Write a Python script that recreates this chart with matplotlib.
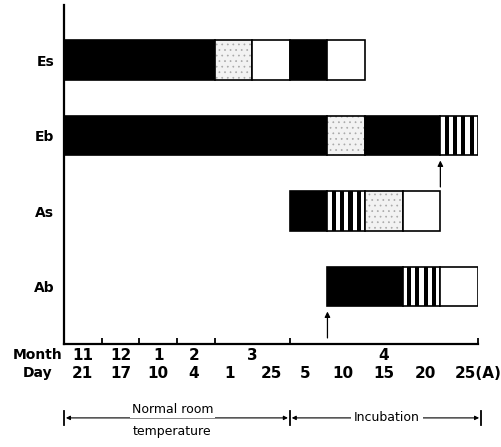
import matplotlib
matplotlib.use("Agg")
import matplotlib.pyplot as plt

plt.rcParams['font.family'] = ['DejaVu Sans']
plt.rcParams['font.weight'] = 'bold'
plt.rcParams['hatch.linewidth'] = 0.5

# samples (top to bottom) and their stage sequences; bounds are in
# units of the sampling intervals on the x axis
rows = ['Es', 'Eb', 'As', 'Ab']
stages = {
    'Es': ['black', 'stipple', 'white', 'black', 'white'],
    'Eb': ['black', 'stipple', 'black', 'stripe'],
    'As': ['black', 'stripe', 'stipple', 'white'],
    'Ab': ['black', 'stripe', 'white'],
}
bounds = {
    'Es': [0, 4, 5, 6, 7, 8],
    'Eb': [0, 7, 8, 10, 11],
    'As': [6, 7, 8, 9, 10],
    'Ab': [7, 9, 10, 11],
}
# start of incubation of each adult sample (arrows)
arrow_rows = ['Eb', 'Ab']
arrow_x = [10, 7]

month_labels = ['11', '12', '1', '2', '3', '4']
day_labels = ['21', '17', '10', '4', '1', '25', '5', '10', '15', '20', '25(A)']
tick_pos = [1, 2, 3, 4, 6, 11]

# label layout along the x axis
month_x = [0.5, 1.5, 2.5, 3.45, 5.0, 8.5]
day_x = [0.5, 1.5, 2.5, 3.45, 4.4, 5.5, 6.4, 7.4, 8.5, 9.6, 11.0]

fig = plt.figure(figsize=(5.01, 4.47), dpi=100)
ax = fig.add_axes([64 / 501, 1 - 344 / 447, 414 / 501, 339 / 447])
ax.set_xlim(0, 11)
ax.set_ylim(0.24, 4.73)

ypos = {r: len(rows) - i for i, r in enumerate(rows)}
h = 0.52

for r in rows:
    y = ypos[r]
    b = bounds[r]
    for kind, a, e in zip(stages[r], b[:-1], b[1:]):
        if kind == 'black':
            ax.barh(y, e - a, left=a, height=h, color='black', lw=0)
        elif kind == 'white':
            ax.barh(y, e - a, left=a, height=h, color='white', lw=0)
        elif kind == 'stipple':
            ax.barh(y, e - a, left=a, height=h, color='#f2f2f2',
                    edgecolor='#a8a8a8', hatch='...', lw=0)
        else:
            ax.barh(y, e - a, left=a, height=h, color='white', lw=0)
            n, w = 4, 0.11
            gap = ((e - a) - n * w) / (n + 1)
            for k in range(n):
                ax.barh(y, w, left=a + gap * (k + 1) + w * k, height=h,
                        color='black', lw=0)
        ax.barh(y, e - a, left=a, height=h, fill=False, edgecolor='black',
                lw=1.2)

for r, x in zip(arrow_rows, arrow_x):
    y = ypos[r]
    ax.annotate('', xy=(x, y - h / 2 - 0.07), xytext=(x, y - h / 2 - 0.42),
                arrowprops=dict(arrowstyle='-|>', lw=0.9, color='black',
                                mutation_scale=8, shrinkA=0, shrinkB=0))

ax.spines['top'].set_visible(False)
ax.spines['right'].set_visible(False)
ax.spines['left'].set_linewidth(1.6)
ax.spines['bottom'].set_linewidth(1.6)

ax.set_yticks([ypos[r] for r in rows])
ax.set_yticklabels(rows, fontsize=10, fontweight='bold')
ax.tick_params(axis='y', length=0, pad=7)
ax.set_xticks(tick_pos)
ax.set_xticklabels([])
ax.tick_params(axis='x', direction='in', length=4, width=1.3)

tr = ax.get_xaxis_transform()
ax.text(-0.05, -0.032, 'Month', transform=tr, ha='right', va='center',
        fontsize=10, fontweight='bold')
ax.text(-0.32, -0.086, 'Day', transform=tr, ha='right', va='center',
        fontsize=10, fontweight='bold')
for x, s in zip(month_x, month_labels):
    ax.text(x, -0.034, s, transform=tr, ha='center', va='center',
            fontsize=11, fontweight='bold', clip_on=False)
for x, s in zip(day_x, day_labels):
    ax.text(x, -0.088, s, transform=tr, ha='center', va='center',
            fontsize=11, fontweight='bold', clip_on=False)

# period brackets below the axis
yb = -0.218
for x in [0, 6, 11.08]:
    ax.plot([x, x], [yb - 0.02, yb + 0.02], transform=tr, color='black',
            lw=1.3, clip_on=False)
for a, e in [(0, 6), (6, 11.08)]:
    ax.annotate('', xy=(a + 0.05, yb), xytext=(e - 0.05, yb), xycoords=tr,
                textcoords=tr,
                arrowprops=dict(arrowstyle='<|-|>', lw=0.8, color='black',
                                mutation_scale=6, shrinkA=0, shrinkB=0))
ax.text(2.88, yb + 0.026, 'Normal room', transform=tr, ha='center',
        va='center', fontsize=9, fontweight='normal',
        bbox=dict(facecolor='white', edgecolor='none', pad=1.5))
ax.text(2.88, yb - 0.04, 'temperature', transform=tr, ha='center',
        va='center', fontsize=9, fontweight='normal')
ax.text(8.58, yb, 'Incubation', transform=tr, ha='center', va='center',
        fontsize=9, fontweight='normal',
        bbox=dict(facecolor='white', edgecolor='none', pad=2))

fig.savefig('out.png', dpi=100)
